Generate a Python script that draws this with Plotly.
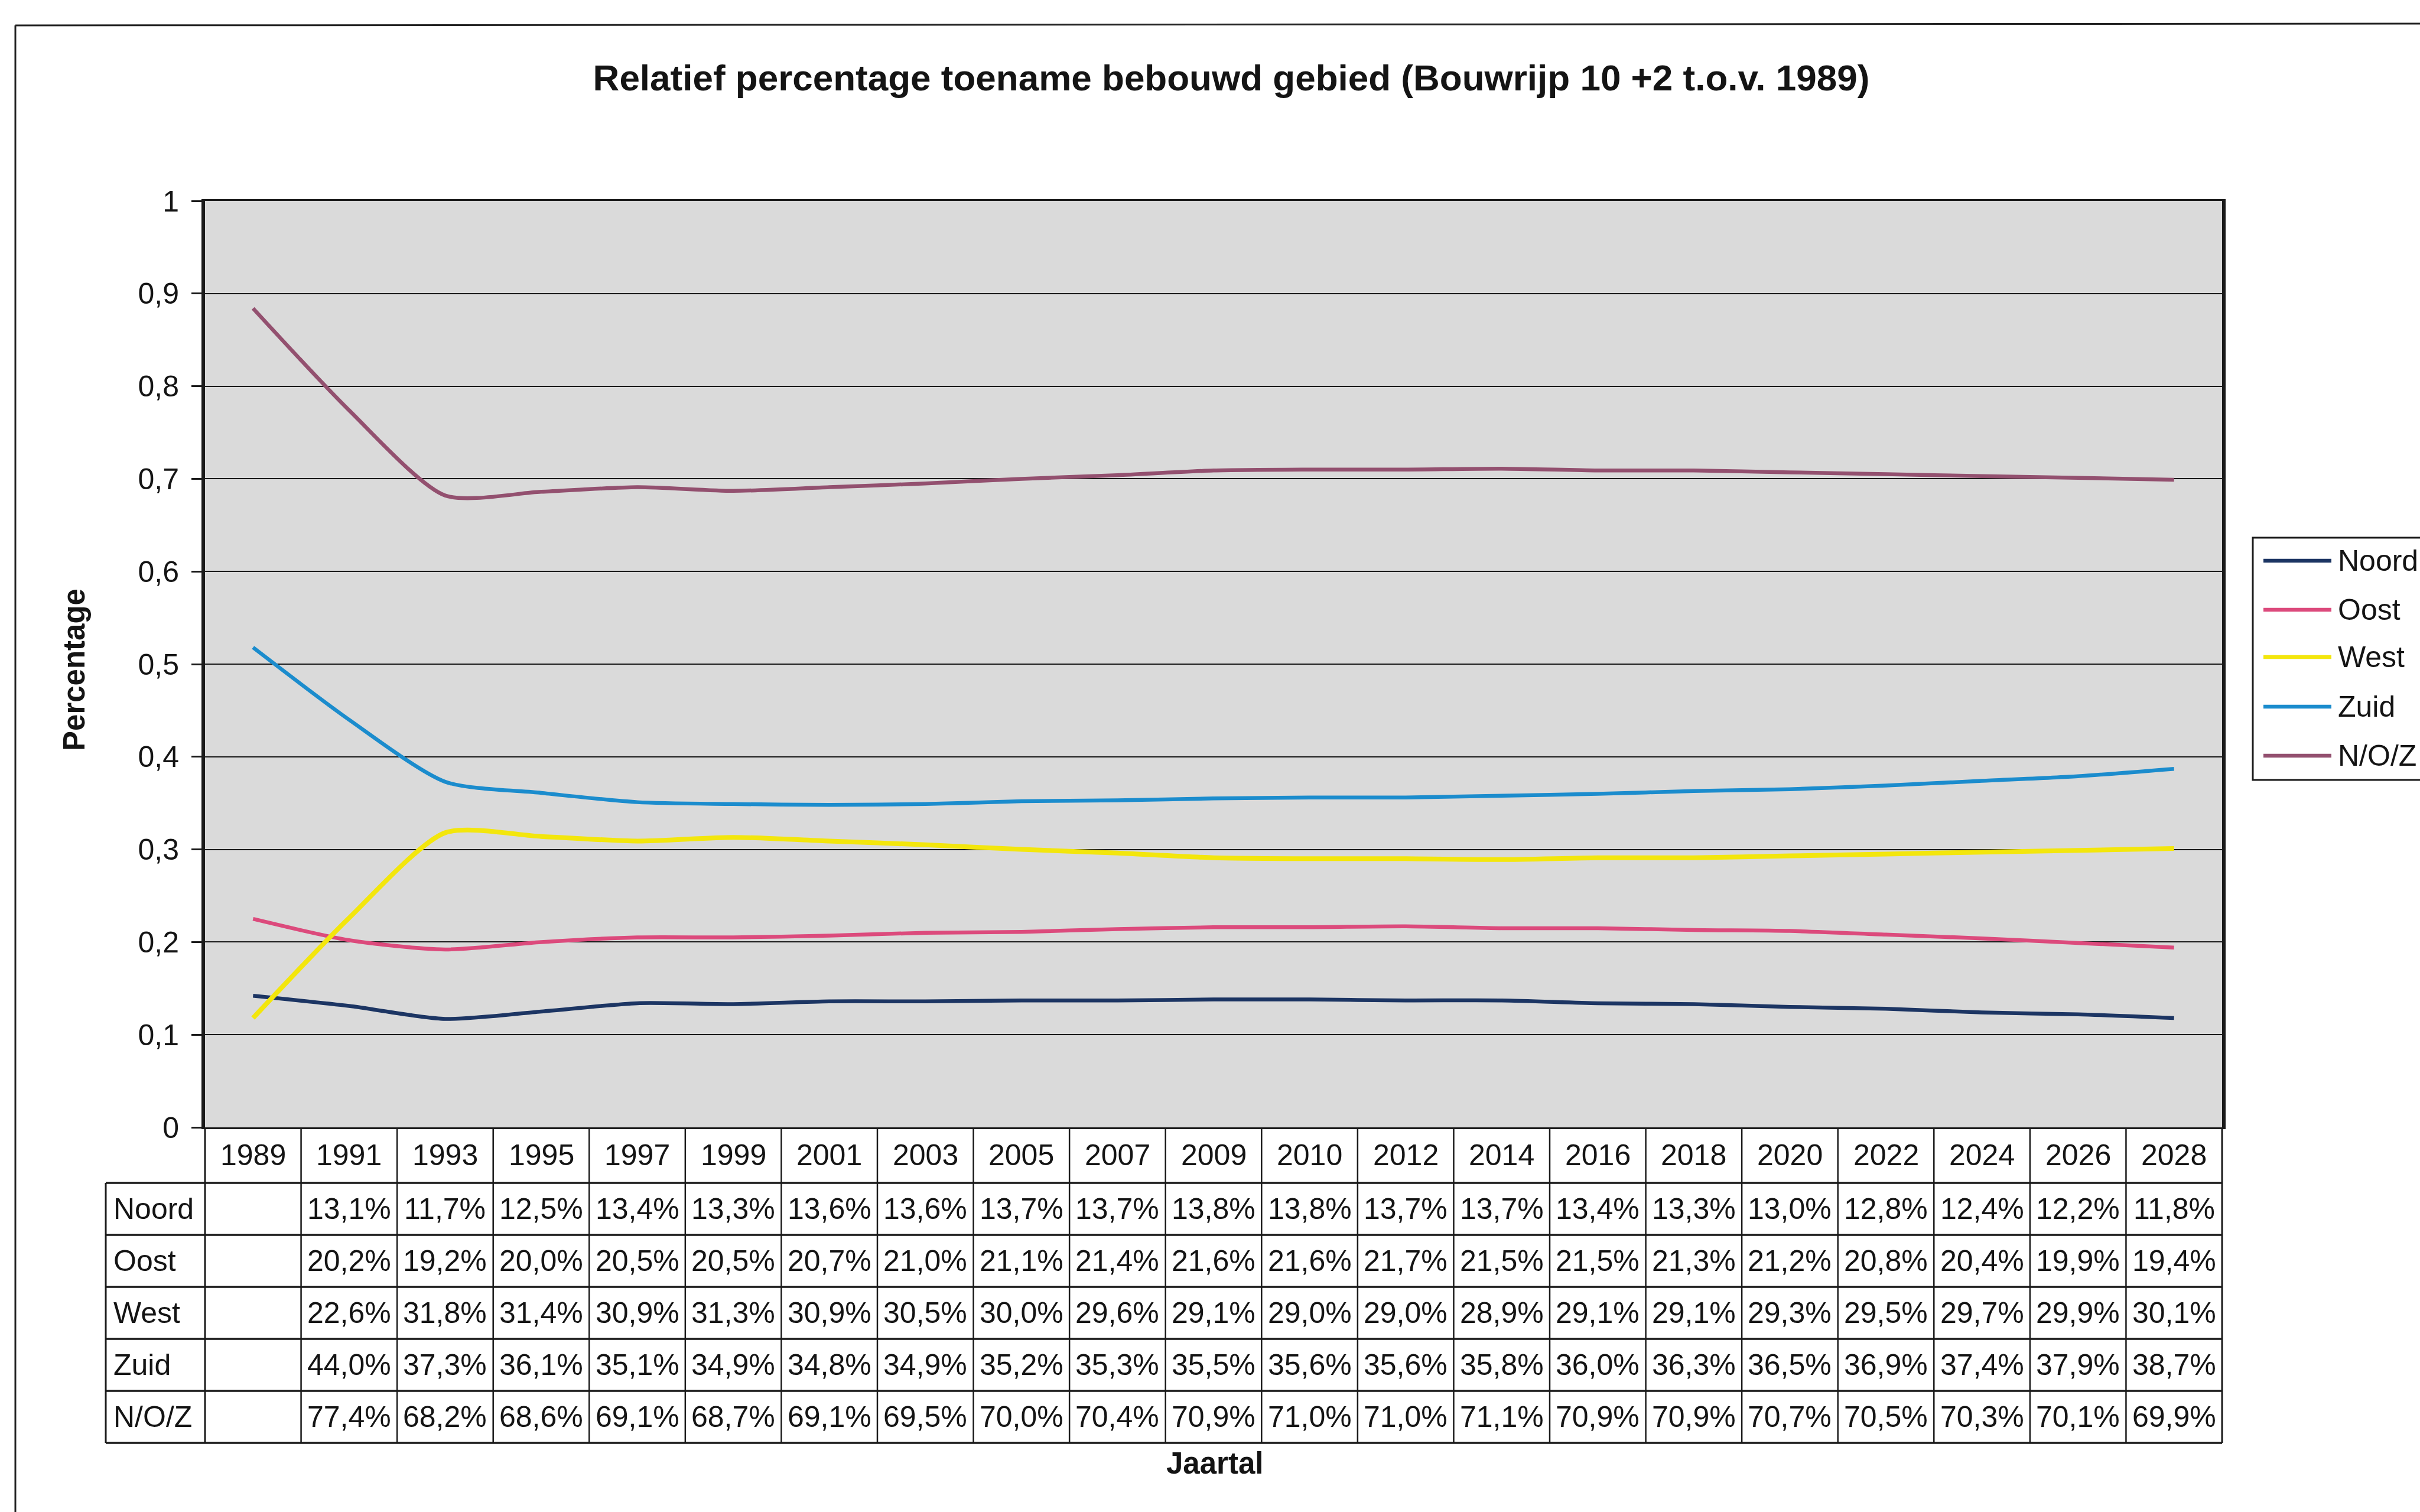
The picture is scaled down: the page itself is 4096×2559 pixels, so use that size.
import plotly.graph_objects as go

# --- data -------------------------------------------------------------
years = ["1989", "1991", "1993", "1995", "1997", "1999", "2001", "2003", "2005",
         "2007", "2009", "2010", "2012", "2014", "2016", "2018", "2020", "2022",
         "2024", "2026", "2028"]

series_names = ["Noord", "Oost", "West", "Zuid", "N/O/Z"]

# start values for 1989 (plotted, but left blank in the table)
start_1989 = {"Noord": 0.142, "Oost": 0.225, "West": 0.118, "Zuid": 0.518, "N/O/Z": 0.884}

noord = [13.1, 11.7, 12.5, 13.4, 13.3, 13.6, 13.6, 13.7, 13.7, 13.8, 13.8, 13.7, 13.7,
         13.4, 13.3, 13.0, 12.8, 12.4, 12.2, 11.8]
oost = [20.2, 19.2, 20.0, 20.5, 20.5, 20.7, 21.0, 21.1, 21.4, 21.6, 21.6, 21.7, 21.5,
        21.5, 21.3, 21.2, 20.8, 20.4, 19.9, 19.4]
west = [22.6, 31.8, 31.4, 30.9, 31.3, 30.9, 30.5, 30.0, 29.6, 29.1, 29.0, 29.0, 28.9,
        29.1, 29.1, 29.3, 29.5, 29.7, 29.9, 30.1]
zuid = [44.0, 37.3, 36.1, 35.1, 34.9, 34.8, 34.9, 35.2, 35.3, 35.5, 35.6, 35.6, 35.8,
        36.0, 36.3, 36.5, 36.9, 37.4, 37.9, 38.7]
noz = [77.4, 68.2, 68.6, 69.1, 68.7, 69.1, 69.5, 70.0, 70.4, 70.9, 71.0, 71.0, 71.1,
       70.9, 70.9, 70.7, 70.5, 70.3, 70.1, 69.9]

table_pct = {"Noord": noord, "Oost": oost, "West": west, "Zuid": zuid, "N/O/Z": noz}

colors = {"Noord": "#1c3563", "Oost": "#dc4a7c", "West": "#f3e60c",
          "Zuid": "#1b8ccd", "N/O/Z": "#93506f"}
widths = {"Noord": 6.5, "Oost": 6.5, "West": 8, "Zuid": 6.5, "N/O/Z": 6.5}

FONT = "Arial, Liberation Sans, sans-serif"
W, H = 4096, 2559
L, R, T, B = 347, 335, 340, 651
PH = H - T - B          # plot height in px
PW = W - L - R          # plot width in px


def py(pix):
    """pixel row -> paper y"""
    return (H - B - pix) / PH


def px(pix):
    """pixel column -> paper x"""
    return (pix - L) / PW


fig = go.Figure()

for name in series_names:
    vals = [start_1989[name]] + [v / 100 for v in table_pct[name]]
    fig.add_trace(go.Scatter(
        x=years, y=vals, name=name, mode="lines",
        line=dict(color=colors[name], width=widths[name], shape="spline", smoothing=0.7),
        showlegend=False, hoverinfo="skip"))

shapes = []
annotations = []

# --- data table under the plot ----------------------------------------
row_edges = [H - B, 2002, 2090, 2178, 2266, 2354, 2442]
label_left = px(179)
black = "#1a1a1a"
txt = "#141414"
TABLE_SIZE = 50

# horizontal rules
for e in row_edges[1:]:
    shapes.append(dict(type="line", xref="paper", yref="paper",
                       x0=label_left, x1=1, y0=py(e), y1=py(e),
                       line=dict(color=black, width=3.5)))
# label column left border
shapes.append(dict(type="line", xref="paper", yref="paper",
                   x0=label_left, x1=label_left, y0=py(row_edges[1]), y1=py(row_edges[-1]),
                   line=dict(color=black, width=3)))
# outer verticals at plot edges
for xv in (0, 1):
    shapes.append(dict(type="line", xref="paper", yref="paper",
                       x0=xv, x1=xv, y0=0, y1=py(row_edges[-1]),
                       line=dict(color=black, width=3)))
# inner verticals at category boundaries
for i in range(1, len(years)):
    shapes.append(dict(type="line", xref="x", yref="paper",
                       x0=i - 0.5, x1=i - 0.5, y0=0, y1=py(row_edges[-1]),
                       line=dict(color=black, width=2.5)))

# year header (category positions by index)
hdr_y = py((row_edges[0] + row_edges[1]) / 2)
for i, yr in enumerate(years):
    annotations.append(dict(xref="x", yref="paper", x=i, y=hdr_y, text=yr,
                            showarrow=False, xanchor="center", yanchor="middle",
                            font=dict(family=FONT, size=TABLE_SIZE, color=txt)))

# rows
for r, name in enumerate(series_names):
    yc = py((row_edges[r + 1] + row_edges[r + 2]) / 2)
    annotations.append(dict(xref="paper", yref="paper", x=px(190), y=yc, text=name,
                            showarrow=False, xanchor="left", yanchor="middle",
                            font=dict(family=FONT, size=TABLE_SIZE, color=txt)))
    for i, v in enumerate(table_pct[name], start=1):
        annotations.append(dict(xref="x", yref="paper", x=i, y=yc,
                                text=f"{v:.1f}%".replace(".", ","),
                                showarrow=False, xanchor="center", yanchor="middle",
                                font=dict(family=FONT, size=TABLE_SIZE, color=txt)))

# --- legend box ------------------------------------------------------
leg_left, leg_top, leg_bot = px(3813), py(910), py(1320)
shapes.append(dict(type="rect", xref="paper", yref="paper",
                   x0=leg_left, x1=px(4200), y0=leg_bot, y1=leg_top,
                   line=dict(color=black, width=3), fillcolor="white", layer="below"))
leg_rows = [949, 1032, 1112, 1196, 1279]
for name, yy in zip(series_names, leg_rows):
    shapes.append(dict(type="line", xref="paper", yref="paper",
                       x0=px(3831), x1=px(3946), y0=py(yy), y1=py(yy),
                       line=dict(color=colors[name], width=6.5)))
    annotations.append(dict(xref="paper", yref="paper", x=px(3955), y=py(yy), text=name,
                            showarrow=False, xanchor="left", yanchor="middle",
                            font=dict(family=FONT, size=50, color=txt)))

# --- chart frame ------------------------------------------------------
shapes.append(dict(type="line", xref="paper", yref="paper",
                   x0=px(26), x1=px(W + 10), y0=py(43), y1=py(40),
                   line=dict(color="#222222", width=3)))
shapes.append(dict(type="line", xref="paper", yref="paper",
                   x0=px(26), x1=px(26), y0=py(43), y1=py(H + 10),
                   line=dict(color="#222222", width=3)))

# --- axis titles --------------------------------------------------------
annotations.append(dict(xref="paper", yref="paper", x=px(125), y=py(1134),
                        text="<b>Percentage</b>", textangle=-90, showarrow=False,
                        xanchor="center", yanchor="middle",
                        font=dict(family=FONT, size=51, color=txt)))
annotations.append(dict(xref="paper", yref="paper", x=px(2056), y=py(2476),
                        text="<b>Jaartal</b>", showarrow=False,
                        xanchor="center", yanchor="middle",
                        font=dict(family=FONT, size=51, color=txt)))

fig.update_layout(
    width=W, height=H,
    margin=dict(l=L, r=R, t=T, b=B, autoexpand=False),
    paper_bgcolor="white",
    plot_bgcolor="#dadada",
    separators=",.",
    font=dict(family=FONT, color=txt),
    title=dict(text="<b>Relatief percentage toename bebouwd gebied (Bouwrijp 10 +2 t.o.v. 1989)</b>",
               x=2084 / W, xanchor="center", y=1 - 131 / H, yanchor="middle",
               font=dict(family=FONT, size=62, color=txt)),
    shapes=shapes,
    annotations=annotations,
    showlegend=False,
)

fig.update_xaxes(type="category", range=[-0.5, len(years) - 0.5],
                 showticklabels=False, ticks="", showgrid=False,
                 showline=True, linecolor=black, linewidth=3, mirror=True,
                 zeroline=False)
fig.update_yaxes(range=[0, 1], dtick=0.1, tick0=0,
                 showgrid=True, gridcolor=black, gridwidth=2,
                 showline=True, linecolor=black, linewidth=6, mirror=True,
                 ticks="outside", ticklen=17, tickwidth=2.5, tickcolor=black,
                 ticklabelstandoff=11, zeroline=False,
                 tickfont=dict(family=FONT, size=50, color=txt))

fig.write_html("out.html")
